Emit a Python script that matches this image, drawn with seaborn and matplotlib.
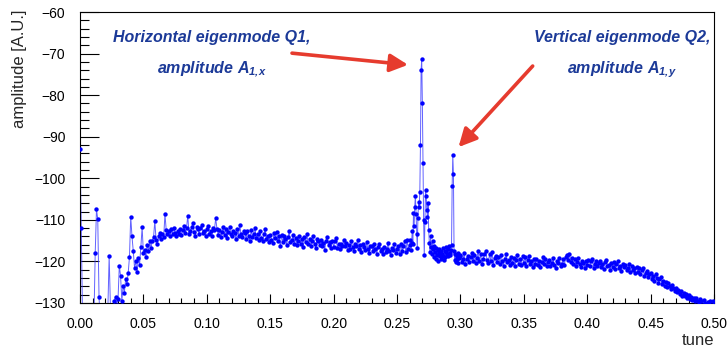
import numpy as np
import pandas as pd
import matplotlib
matplotlib.use("Agg")
import matplotlib.pyplot as plt
import seaborn as sns
from matplotlib.ticker import MultipleLocator, FormatStrFormatter

# amplitude samples, tune 0.000 .. 0.259 (step 0.001)
amp_lo = [
    -93.0, -112.0, -133.0, -138.0, -141.0, -137.0, -140.0, -136.0, -139.0, -142.0,
    -137.0, -134.0, -118.0, -107.5, -109.8, -128.5, -135.0, -138.0, -133.0, -136.0,
    -139.0, -134.0, -131.0, -118.6, -131.0, -136.0, -132.0, -129.5, -128.5, -130.5,
    -129.0, -121.0, -123.5, -129.5, -125.8, -127.5, -124.2, -125.5, -122.8, -119.0,
    -109.2, -114.0, -117.5, -121.5, -120.0, -122.5, -119.2, -120.8, -116.5, -111.8,
    -118.0, -117.2, -119.0, -116.0, -117.5, -115.2, -116.8, -115.0, -114.2, -110.3,
    -114.8, -115.8, -114.0, -113.2, -114.6, -113.5, -114.2, -108.6, -112.5, -113.4,
    -112.8, -113.9, -112.2, -113.5, -111.9, -113.1, -114.0, -112.6, -113.3, -112.1,
    -113.6, -112.4, -111.5, -113.2, -112.0, -109.0, -113.4, -112.7, -111.8, -110.8,
    -112.9, -113.8, -111.7, -112.3, -113.5, -112.0, -111.2, -113.1, -112.6, -114.0,
    -112.2, -111.4, -113.3, -112.8, -113.9, -111.9, -112.5, -109.6, -112.1, -113.6,
    -112.4, -114.1, -113.0, -111.8, -113.6, -112.3, -114.3, -112.9, -111.7, -113.4,
    -114.0, -112.6, -113.2, -114.5, -112.2, -113.8, -111.2, -113.5, -114.2, -112.8,
    -113.1, -114.6, -112.7, -113.9, -115.0, -112.5, -114.2, -113.3, -111.9, -114.4,
    -113.5, -114.9, -112.8, -114.3, -115.2, -113.4, -112.1, -114.6, -113.9, -115.4,
    -113.6, -114.8, -115.5, -113.2, -114.4, -112.9, -115.1, -114.0, -116.2, -113.7,
    -115.3, -113.9, -114.6, -116.0, -114.2, -112.8, -115.4, -114.9, -113.6, -115.8,
    -114.4, -116.1, -115.2, -113.9, -115.7, -114.6, -116.5, -114.1, -115.3, -113.5,
    -115.9, -114.7, -116.4, -115.0, -113.9, -115.8, -116.7, -114.5, -115.2, -116.1,
    -114.9, -116.3, -115.5, -117.2, -115.0, -114.2, -116.0, -115.4, -116.8, -115.1,
    -116.5, -115.2, -114.3, -116.8, -115.7, -117.1, -115.9, -116.4, -114.8, -116.2,
    -115.6, -117.3, -116.0, -116.9, -115.1, -116.6, -117.6, -115.8, -116.3, -114.9,
    -117.0, -116.1, -117.8, -115.7, -116.6, -117.3, -115.4, -116.9, -118.0, -116.2,
    -116.4, -117.5, -115.9, -117.1, -118.2, -116.6, -115.8, -117.4, -116.9, -118.3,
    -116.5, -117.8, -116.9, -115.6, -117.4, -118.4, -116.8, -117.2, -115.9, -118.0,
    -117.0, -116.2, -118.3, -115.7, -117.6, -116.4, -115.0, -117.8, -114.9, -117.1,
]

# peak region, tune 0.2600 .. 0.2995 (step 0.0005)
amp_pk = [
    -116.0, -114.9, -117.2, -115.5, -112.8, -115.8, -108.4, -111.5, -106.8, -104.2,
    -108.5, -113.5, -116.8, -109.5, -105.6, -106.8, -103.2, -92.0, -74.0, -71.4,
    -82.0, -96.4, -110.0, -118.5, -110.5, -102.8, -104.2, -107.6, -109.2, -106.0,
    -112.4, -115.5, -117.8, -114.0, -116.6, -118.2, -115.2, -117.0, -119.0, -116.3,
    -117.8, -119.5, -116.8, -118.4, -117.2, -119.8, -118.0, -116.9, -118.8, -117.5,
    -119.3, -118.1, -116.7, -118.6, -119.6, -117.4, -118.9, -117.8, -116.5, -118.3,
    -117.0, -118.7, -116.2, -117.9, -118.5, -117.3, -116.0, -101.9, -94.4, -99.0,
    -117.5, -119.7, -118.2, -120.1, -118.8, -119.5, -118.0, -120.3, -119.1, -118.6,
]

# tune 0.300 .. 0.500 (step 0.001)
amp_hi = [
    -118.4, -120.1, -119.5, -118.0, -120.6, -119.3, -118.7, -120.2, -119.0, -117.9,
    -119.8, -118.5, -120.4, -119.1, -117.6, -119.9, -118.3, -120.7, -119.4, -118.1,
    -117.5, -119.6, -120.3, -118.2, -119.9, -117.8, -120.8, -119.1, -118.6, -120.2,
    -119.0, -120.5, -118.4, -119.8, -121.0, -119.3, -118.1, -120.1, -119.6, -120.9,
    -118.9, -120.4, -119.2, -121.1, -119.7, -118.5, -120.6, -119.4, -120.9, -118.8,
    -120.3, -119.0, -121.2, -119.6, -118.6, -120.7, -119.9, -121.4, -119.3, -120.5,
    -119.4, -120.9, -119.8, -121.3, -120.2, -118.9, -120.6, -119.5, -121.0, -120.1,
    -119.6, -121.2, -120.4, -119.1, -120.8, -121.5, -119.9, -120.3, -119.2, -121.0,
    -120.5, -119.3, -120.9, -119.0, -118.4, -119.7, -118.3, -120.2, -119.1, -120.6,
    -119.5, -121.0, -120.1, -119.2, -120.7, -121.3, -119.8, -120.4, -121.6, -119.9,
    -120.8, -119.6, -121.2, -120.0, -119.3, -121.5, -120.5, -119.9, -121.0, -120.3,
    -119.8, -121.3, -120.6, -121.8, -120.1, -119.7, -121.1, -120.9, -122.0, -120.4,
    -121.4, -120.2, -121.9, -120.7, -119.9, -121.6, -121.0, -122.3, -120.5, -121.3,
    -120.8, -122.1, -121.5, -120.6, -122.5, -121.2, -122.0, -121.7, -122.8, -121.4,
    -122.6, -121.5, -123.0, -122.0, -121.6, -123.4, -122.8, -122.3, -123.7, -123.1,
    -122.9, -124.2, -123.5, -124.6, -123.1, -124.0, -125.1, -124.3, -123.8, -125.4,
    -124.6, -125.8, -124.9, -126.2, -125.3, -125.9, -126.7, -125.6, -126.4, -127.1,
    -126.3, -127.4, -126.8, -127.8, -127.0, -128.2, -127.5, -128.4, -127.9, -128.7,
    -128.1, -129.0, -128.5, -129.3, -128.7, -129.6, -128.9, -129.4, -130.2, -129.1,
    -129.5, -130.4, -129.3, -129.9, -130.6, -129.7, -130.2, -129.4, -130.8, -129.6,
    -130.3,
]

x_ticks = [0.00, 0.05, 0.10, 0.15, 0.20, 0.25, 0.30, 0.35, 0.40, 0.45, 0.50]
y_ticks = [-130, -120, -110, -100, -90, -80, -70, -60]

tune = np.concatenate([
    np.arange(len(amp_lo)) * 0.001,
    0.26 + np.arange(len(amp_pk)) * 0.0005,
    0.30 + np.arange(len(amp_hi)) * 0.001,
])
amp = np.array(amp_lo + amp_pk + amp_hi)
df = pd.DataFrame({"tune": tune, "amplitude": amp})

sns.set_theme(style="ticks")
plt.rcParams["font.family"] = ["Liberation Sans", "DejaVu Sans"]
plt.rcParams["mathtext.fontset"] = "custom"
plt.rcParams["mathtext.rm"] = "Liberation Sans:bold:italic"
plt.rcParams["mathtext.it"] = "Liberation Sans:bold:italic"
plt.rcParams["mathtext.bf"] = "Liberation Sans:bold:italic"

fig = plt.figure(figsize=(7.28, 3.47), dpi=100)
ax = fig.add_axes([80 / 728, 1 - 303 / 347, (714 - 80) / 728, (303 - 12) / 347])

sns.lineplot(data=df, x="tune", y="amplitude", ax=ax, color="#3a3aff",
             linewidth=0.7, alpha=0.8, estimator=None, sort=False)
sns.scatterplot(data=df, x="tune", y="amplitude", ax=ax, color="#0000ff",
                s=10, linewidth=0, zorder=3)

ax.set_xlim(0, 0.5)
ax.set_ylim(-130, -60)
ax.set_xticks(x_ticks)
ax.set_yticks(y_ticks)
ax.xaxis.set_major_formatter(FormatStrFormatter("%.2f"))
ax.xaxis.set_minor_locator(MultipleLocator(0.01))
ax.yaxis.set_minor_locator(MultipleLocator(2))
ax.tick_params(axis="both", which="both", direction="in", colors="black",
               labelsize=10, width=0.8, top=False, right=False)
ax.tick_params(axis="y", which="major", length=13.5, pad=10.5)
ax.tick_params(axis="y", which="minor", length=6.5)
ax.tick_params(axis="x", which="major", length=6.5, pad=10)
ax.tick_params(axis="x", which="minor", length=3.3)
for sp in ax.spines.values():
    sp.set_visible(True)
    sp.set_color("black")
    sp.set_linewidth(0.8)
ax.set_xlabel("")
ax.set_ylabel("")

fig.text(20 / 728, 1 - 10 / 347, "amplitude [A.U.]", rotation=90,
         ha="center", va="top", fontsize=12)
fig.text(714 / 728, 1 - 345 / 347, "tune", ha="right", va="baseline",
         fontsize=12)

txt_color = "#1c3a98"
tkw = dict(color=txt_color, fontsize=11.5, fontweight="bold", fontstyle="italic",
           ha="center", va="baseline")
ax.text(0.1036, -67.3, "Horizontal eigenmode Q1,", **tkw)
ax.text(0.1036, -74.7, r"amplitude A$_{1{,}x}$", **tkw)
ax.text(0.4274, -67.3, "Vertical eigenmode Q2,", **tkw)
ax.text(0.4274, -74.7, r"amplitude A$_{1{,}y}$", **tkw)

akw = dict(arrowstyle="-|>,head_length=0.9,head_width=0.45", color="#e63b2e",
           lw=2.6, shrinkA=0, shrinkB=0)
ax.annotate("", xy=(0.2587, -72.7), xytext=(0.1672, -69.9), arrowprops=akw)
ax.annotate("", xy=(0.2985, -92.5), xytext=(0.357, -73.0), arrowprops=akw)

fig.savefig("out.png", dpi=100)
